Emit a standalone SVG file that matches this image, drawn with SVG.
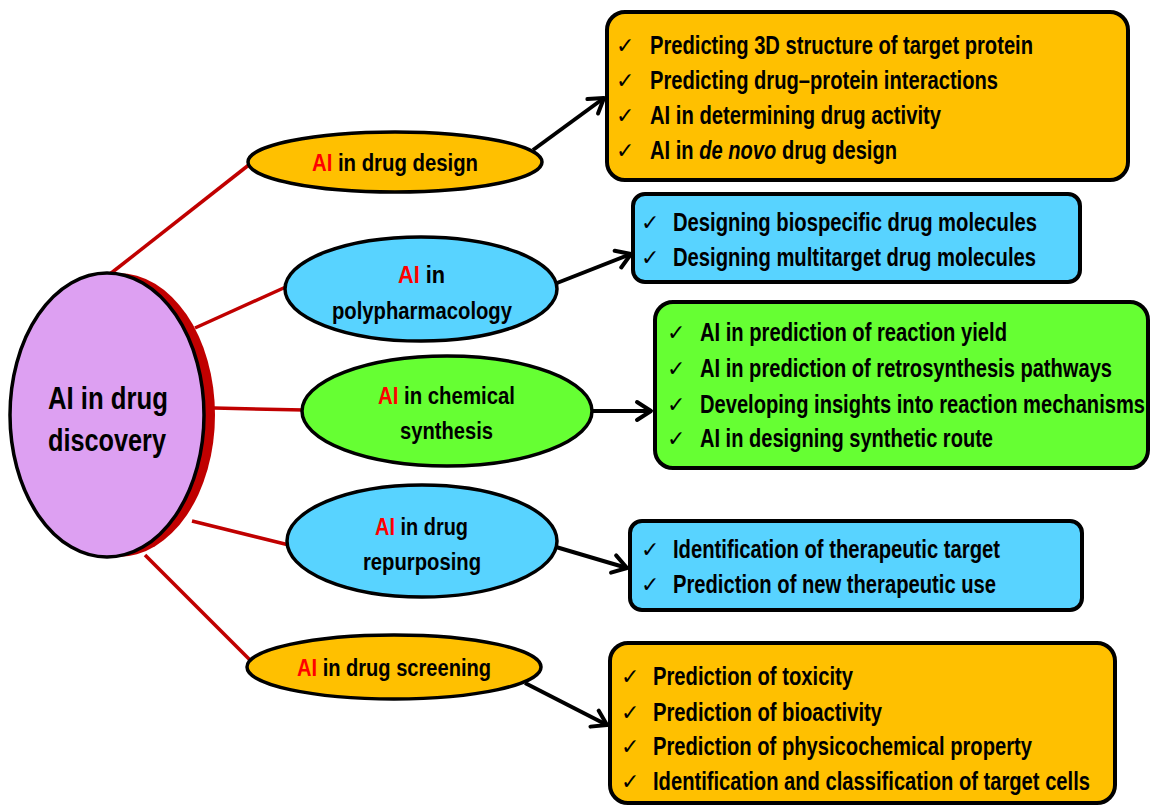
<svg xmlns="http://www.w3.org/2000/svg" width="1151" height="806" viewBox="0 0 1151 806">
<style>
.red{stroke:#C00000;stroke-width:3.5;fill:none}
.arr{stroke:#000;stroke-width:4;fill:none;marker-end:url(#ah)}
.ell{stroke:#000;stroke-width:3.5}
.box{stroke:#000;stroke-width:4}
.orange{fill:#FFC000}
.blue{fill:#58D3FF}
.green{fill:#66FF33}
.t{font-family:"Liberation Sans Narrow","Liberation Sans",Arial,sans-serif;font-weight:bold;fill:#000}
.lbl{font-size:23px}
.item{font-size:25px}
.ck{font-family:"DejaVu Sans",sans-serif;font-size:22px;fill:#000}
.ai{fill:#FF0000}
</style>
<defs>
<marker id="ah" markerUnits="userSpaceOnUse" markerWidth="24" markerHeight="24" viewBox="0 0 24 24" refX="20" refY="12" orient="auto">
<path d="M6,3 L20,12 L6,21" fill="none" stroke="#000" stroke-width="4" stroke-linecap="round" stroke-linejoin="round"/>
</marker>
</defs>
<g id="connectors">
<line class="red" x1="110" y1="274" x2="250" y2="164"/>
<line class="red" x1="195" y1="328" x2="288" y2="286"/>
<line class="red" x1="214" y1="408" x2="304" y2="410"/>
<line class="red" x1="192" y1="521" x2="289" y2="545"/>
<line class="red" x1="145" y1="555" x2="250" y2="660"/>
<line class="arr" x1="533" y1="150" x2="604" y2="98"/>
<line class="arr" x1="557" y1="283" x2="631" y2="254"/>
<line class="arr" x1="592" y1="411" x2="651" y2="411"/>
<line class="arr" x1="556" y1="547" x2="627" y2="568"/>
<line class="arr" x1="525" y1="683" x2="607" y2="725"/>
</g>
<g id="center">
<ellipse cx="118" cy="415" rx="97" ry="142" fill="#C00000"/>
<ellipse class="ell" cx="107" cy="415" rx="97" ry="142" fill="#DDA0F2"/>
<text class="t" font-size="31" x="48" y="409" textLength="120" lengthAdjust="spacingAndGlyphs">AI in drug</text>
<text class="t" font-size="31" x="48" y="451" textLength="118" lengthAdjust="spacingAndGlyphs">discovery</text>
</g>
<g id="n-design">
<ellipse class="ell orange" cx="395" cy="162" rx="147" ry="30"/>
<text class="t lbl" x="312" y="171" textLength="166" lengthAdjust="spacingAndGlyphs"><tspan class="ai">AI</tspan> in drug design</text>
</g>
<g id="n-poly">
<ellipse class="ell blue" cx="421" cy="289" rx="136" ry="52"/>
<text class="t lbl" x="398" y="283" textLength="47" lengthAdjust="spacingAndGlyphs"><tspan class="ai">AI</tspan> in</text>
<text class="t lbl" x="332" y="319" textLength="180" lengthAdjust="spacingAndGlyphs">polypharmacology</text>
</g>
<g id="n-chem">
<ellipse class="ell green" cx="447" cy="411" rx="145" ry="55"/>
<text class="t lbl" x="378" y="404" textLength="137" lengthAdjust="spacingAndGlyphs"><tspan class="ai">AI</tspan> in chemical</text>
<text class="t lbl" x="400" y="439" textLength="93" lengthAdjust="spacingAndGlyphs">synthesis</text>
</g>
<g id="n-repurp">
<ellipse class="ell blue" cx="422" cy="541" rx="135" ry="56"/>
<text class="t lbl" x="375" y="535" textLength="93" lengthAdjust="spacingAndGlyphs"><tspan class="ai">AI</tspan> in drug</text>
<text class="t lbl" x="363" y="570" textLength="118" lengthAdjust="spacingAndGlyphs">repurposing</text>
</g>
<g id="n-screen">
<ellipse class="ell orange" cx="394" cy="667" rx="147" ry="32"/>
<text class="t lbl" x="297" y="676" textLength="194" lengthAdjust="spacingAndGlyphs"><tspan class="ai">AI</tspan> in drug screening</text>
</g>
<g id="b-design">
<rect class="box orange" x="607" y="12" width="521" height="168" rx="18"/>
<text class="ck" x="616" y="53">✓</text><text class="t item" x="650" y="54" textLength="383" lengthAdjust="spacingAndGlyphs">Predicting 3D structure of target protein</text>
<text class="ck" x="616" y="88">✓</text><text class="t item" x="650" y="89" textLength="348" lengthAdjust="spacingAndGlyphs">Predicting drug–protein interactions</text>
<text class="ck" x="616" y="123">✓</text><text class="t item" x="650" y="124" textLength="291" lengthAdjust="spacingAndGlyphs">AI in determining drug activity</text>
<text class="ck" x="616" y="158">✓</text><text class="t item" x="650" y="159" textLength="247" lengthAdjust="spacingAndGlyphs">AI in <tspan font-style="italic">de novo</tspan> drug design</text>
</g>
<g id="b-poly">
<rect class="box blue" x="633" y="194" width="447" height="88" rx="12"/>
<text class="ck" x="641" y="230">✓</text><text class="t item" x="673" y="231" textLength="364" lengthAdjust="spacingAndGlyphs">Designing biospecific drug molecules</text>
<text class="ck" x="641" y="265">✓</text><text class="t item" x="673" y="266" textLength="363" lengthAdjust="spacingAndGlyphs">Designing multitarget drug molecules</text>
</g>
<g id="b-chem">
<rect class="box green" x="655" y="302" width="493" height="166" rx="18"/>
<text class="ck" x="667" y="340">✓</text><text class="t item" x="700" y="341" textLength="307" lengthAdjust="spacingAndGlyphs">AI in prediction of reaction yield</text>
<text class="ck" x="667" y="376">✓</text><text class="t item" x="700" y="377" textLength="412" lengthAdjust="spacingAndGlyphs">AI in prediction of retrosynthesis pathways</text>
<text class="ck" x="667" y="412">✓</text><text class="t item" x="700" y="413" textLength="445" lengthAdjust="spacingAndGlyphs">Developing insights into reaction mechanisms</text>
<text class="ck" x="667" y="446">✓</text><text class="t item" x="700" y="447" textLength="293" lengthAdjust="spacingAndGlyphs">AI in designing synthetic route</text>
</g>
<g id="b-repurp">
<rect class="box blue" x="630" y="521" width="452" height="89" rx="12"/>
<text class="ck" x="641" y="557">✓</text><text class="t item" x="673" y="558" textLength="327" lengthAdjust="spacingAndGlyphs">Identification of therapeutic target</text>
<text class="ck" x="641" y="592">✓</text><text class="t item" x="673" y="593" textLength="323" lengthAdjust="spacingAndGlyphs">Prediction of new therapeutic use</text>
</g>
<g id="b-screen">
<rect class="box orange" x="610" y="643" width="505" height="160" rx="18"/>
<text class="ck" x="621" y="684">✓</text><text class="t item" x="653" y="685" textLength="200" lengthAdjust="spacingAndGlyphs">Prediction of toxicity</text>
<text class="ck" x="621" y="720">✓</text><text class="t item" x="653" y="721" textLength="229" lengthAdjust="spacingAndGlyphs">Prediction of bioactivity</text>
<text class="ck" x="621" y="754">✓</text><text class="t item" x="653" y="755" textLength="379" lengthAdjust="spacingAndGlyphs">Prediction of physicochemical property</text>
<text class="ck" x="621" y="789">✓</text><text class="t item" x="653" y="790" textLength="437" lengthAdjust="spacingAndGlyphs">Identification and classification of target cells</text>
</g>
</svg>
